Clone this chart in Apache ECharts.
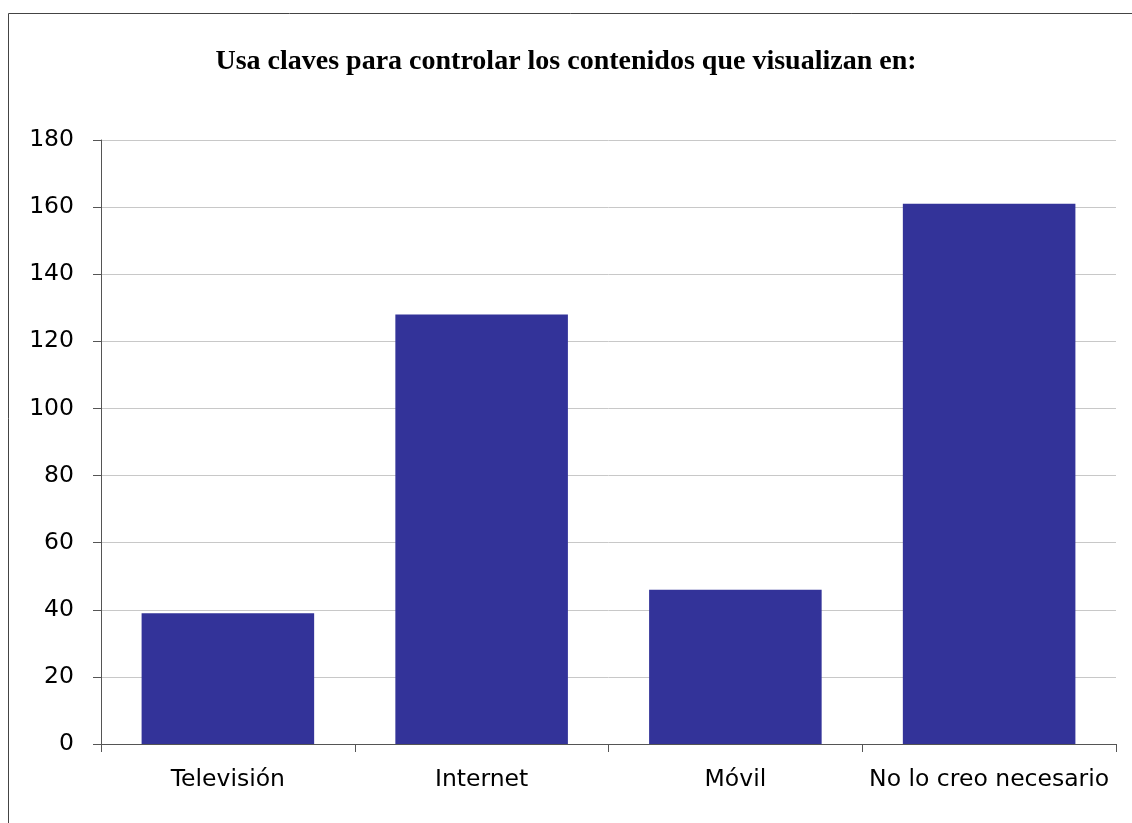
<!DOCTYPE html>
<html>
<head>
<meta charset="utf-8">
<script src="https://cdn.jsdelivr.net/npm/echarts@6/dist/echarts.min.js"></script>
<style>
  html, body { margin: 0; padding: 0; background: #fff; }
  #chart { width: 1132px; height: 823px; }
</style>
</head>
<body>
<div id="chart"></div>
<script>
// datos
var categorias = ['Televisión', 'Internet', 'Móvil', 'No lo creo necesario'];
var valores = [39, 128, 46, 161];
var titulo = 'Usa claves para controlar los contenidos que visualizan en:';

var chart = echarts.init(document.getElementById('chart'), null, {renderer: 'canvas'});
var option = {
  animation: false,
  backgroundColor: '#fff',
  title: {
    text: titulo,
    left: 'center',
    top: 43,
    textStyle: {fontFamily: 'Liberation Serif', fontWeight: 'bold', fontSize: 28, color: '#000'}
  },
  graphic: [{
    type: 'rect',
    shape: {x: 8.5, y: 13.5, width: 1300, height: 1000},
    style: {fill: 'none', stroke: '#444', lineWidth: 1},
    silent: true
  }],
  grid: {left: 101, right: 16, top: 140, bottom: 79, containLabel: false},
  xAxis: {
    type: 'category',
    data: categorias,
    axisLine: {lineStyle: {color: '#555', width: 1}},
    axisTick: {show: true, alignWithLabel: false, length: 8, lineStyle: {color: '#555'}},
    axisLabel: {fontFamily: 'DejaVu Sans', fontSize: 23.5, color: '#000', margin: 24, interval: 0}
  },
  yAxis: {
    type: 'value',
    min: 0,
    max: 180,
    interval: 20,
    axisLine: {show: true, lineStyle: {color: '#555', width: 1}},
    axisTick: {show: true, length: 8, lineStyle: {color: '#555'}},
    axisLabel: {fontFamily: 'DejaVu Sans', fontSize: 23.5, color: '#000', margin: 27},
    splitLine: {lineStyle: {color: '#c8c8c8', width: 1}}
  },
  series: [{
    type: 'bar',
    data: valores,
    barCategoryGap: '32%',
    itemStyle: {color: '#333399'}
  }]
};
chart.setOption(option);
</script>
</body>
</html>
